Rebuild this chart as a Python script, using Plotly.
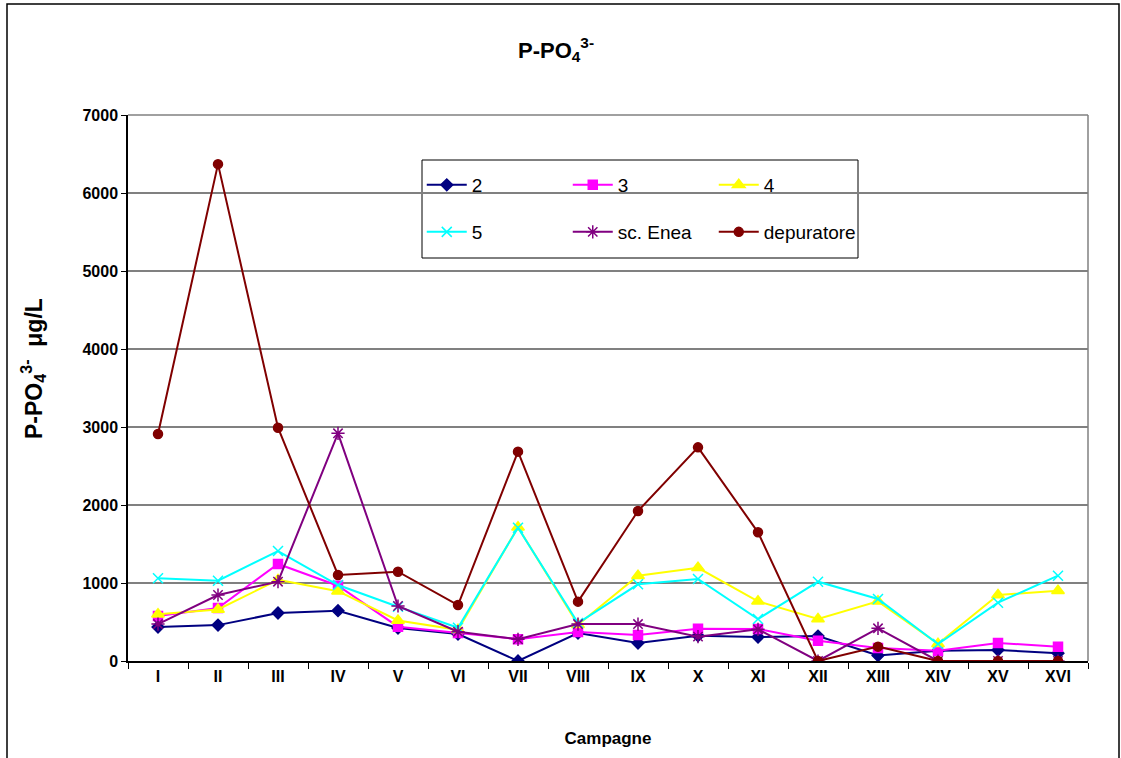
import plotly.graph_objects as go

campagne = ["I", "II", "III", "IV", "V", "VI", "VII", "VIII", "IX", "X", "XI", "XII", "XIII", "XIV", "XV", "XVI"]

s2 = [436, 460, 615, 645, 423, 346, 0, 359, 231, 325, 308, 320, 70, 132, 141, 100]
s3 = [577, 680, 1244, 965, 440, 359, 280, 372, 333, 414, 410, 260, 167, 132, 231, 184]
s4 = [600, 660, 1040, 895, 520, 400, 1715, 465, 1094, 1195, 765, 540, 765, 220, 846, 900]
s5 = [1060, 1030, 1410, 974, 696, 427, 1709, 487, 983, 1051, 538, 1017, 795, 218, 748, 1094]
sc_enea = [474, 846, 1017, 2919, 705, 376, 278, 474, 474, 312, 406, 0, 419, 0, 0, 0]
depuratore = [2910, 6370, 2991, 1103, 1145, 718, 2684, 761, 1923, 2739, 1650, 0, 184, 0, 0, 0]

series = [
    ("2", s2, "#000080", "diamond", 9, "legend"),
    ("3", s3, "#FF00FF", "square", 9, "legend"),
    ("4", s4, "#FFFF00", "triangle-up", 11, "legend"),
    ("5", s5, "#00FFFF", "x-thin-open", 10, "legend2"),
    ("sc. Enea", sc_enea, "#800080", "asterisk-open", 11, "legend2"),
    ("depuratore", depuratore, "#800000", "circle", 9, "legend2"),
]

fig = go.Figure()
for name, vals, col, sym, sz, lg in series:
    fig.add_trace(go.Scatter(
        x=campagne, y=vals, name=name, mode="lines+markers",
        line=dict(color=col, width=2),
        marker=dict(symbol=sym, size=sz, color=col, line=dict(color=col, width=1.5)),
        legend=lg,
    ))

font_main = "Arial, Liberation Sans, sans-serif"

fig.update_layout(
    width=1121, height=758,
    margin=dict(l=128, r=33, t=115, b=97),
    paper_bgcolor="white", plot_bgcolor="white",
    font=dict(family=font_main, color="black"),
    title=dict(text="<b>P-PO<sub>4</sub><sup>3-</sup></b>", x=(556 - 128) / 960, xref="paper",
               xanchor="center", y=1 - 50 / 758, yanchor="middle",
               font=dict(size=22, color="black")),
    xaxis=dict(
        type="category", tickson="boundaries", ticks="outside", ticklen=6,
        tickcolor="black", showline=True, linecolor="black", linewidth=1.5,
        showgrid=False, mirror=False,
        tickfont=dict(size=16, family=font_main), tickprefix="<b>", ticksuffix="</b>",
        title=dict(text="<b>Campagne</b>", font=dict(size=17), standoff=48),
        range=[-0.5, 15.5],
    ),
    yaxis=dict(
        range=[0, 7000], dtick=1000, ticks="outside", ticklen=5, tickcolor="black",
        showline=True, linecolor="black", linewidth=1.5,
        showgrid=True, gridcolor="#808080", gridwidth=1.5,
        zeroline=False,
        tickfont=dict(size=16, family=font_main), tickprefix="<b>", ticksuffix="</b>",
    ),
    annotations=[
        dict(text="<b>P-PO<sub>4</sub><sup>3-</sup>  μg/L</b>", textangle=-90,
             xref="paper", yref="paper", x=(33 - 128) / 960, y=(661 - 369) / 546,
             xanchor="center", yanchor="middle", showarrow=False,
             font=dict(size=23, family=font_main, color="black")),
    ],
    legend=dict(
        orientation="h", x=0.306, y=(661 - 185) / 546, xanchor="left", yanchor="middle",
        entrywidth=91, entrywidthmode="pixels", itemwidth=40, bgcolor="rgba(0,0,0,0)",
        font=dict(size=19, family=font_main), itemclick=False,
    ),
    legend2=dict(
        orientation="h", x=0.306, y=(661 - 232) / 546, xanchor="left", yanchor="middle",
        entrywidth=91, entrywidthmode="pixels", itemwidth=40, bgcolor="rgba(0,0,0,0)",
        font=dict(size=19, family=font_main), itemclick=False,
    ),
    shapes=[
        dict(type="line", xref="paper", yref="paper", x0=0, x1=1, y0=1, y1=1,
             line=dict(color="#808080", width=1.5), layer="between"),
        dict(type="line", xref="paper", yref="paper", x0=1, x1=1, y0=0, y1=1,
             line=dict(color="#808080", width=1.5), layer="between"),
        dict(type="rect", xref="paper", yref="paper",
             x0=(422 - 128) / 960, x1=(858 - 128) / 960,
             y0=(661 - 258) / 546, y1=(661 - 160) / 546,
             fillcolor="white", line=dict(color="black", width=1), layer="between"),
        dict(type="rect", xref="paper", yref="paper",
             x0=(7 - 128) / 960, x1=(1119 - 128) / 960,
             y0=(661 - 790) / 546, y1=(661 - 4) / 546,
             line=dict(color="black", width=1.5), fillcolor="rgba(0,0,0,0)", layer="above"),
    ],
)

fig.write_html("out.html")
